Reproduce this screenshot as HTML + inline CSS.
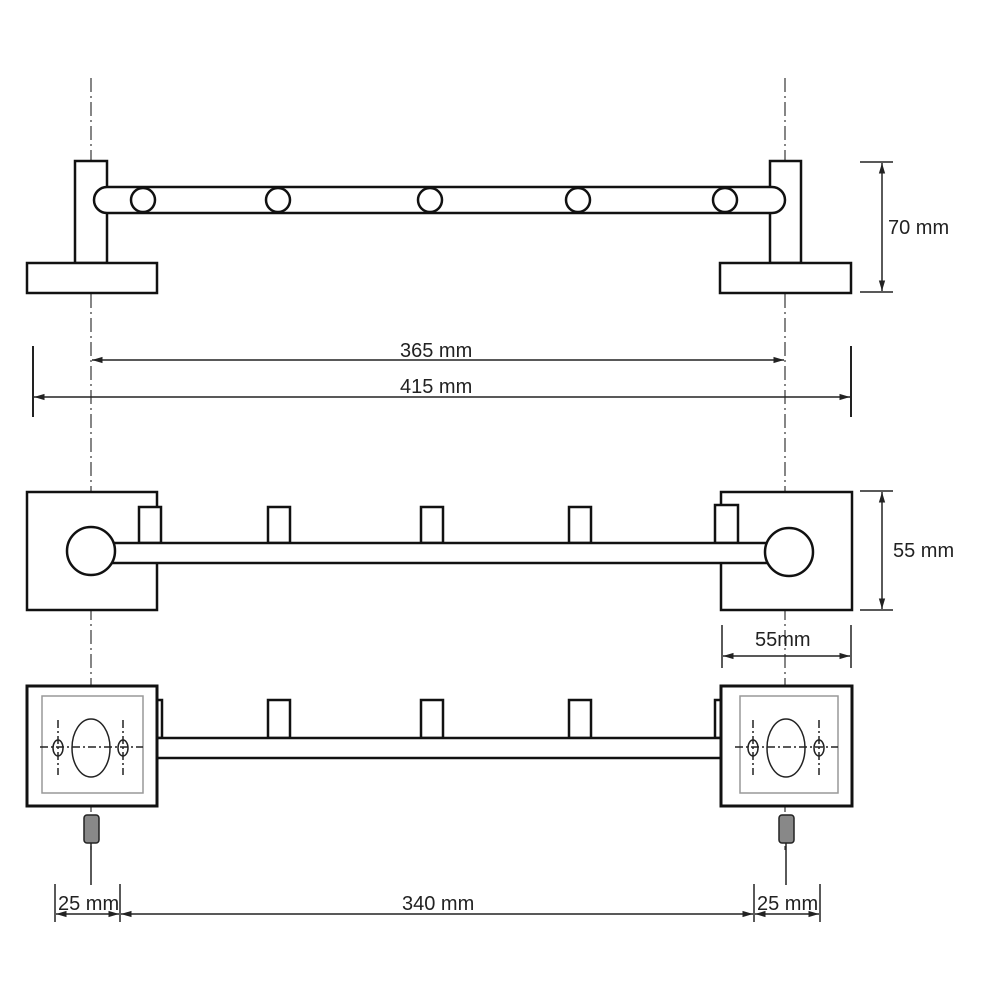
<!DOCTYPE html>
<html><head><meta charset="utf-8"><style>html,body{margin:0;padding:0;background:#fff}svg{display:block}text{font-family:"Liberation Sans",sans-serif;font-size:20px;fill:#222}</style></head><body>
<svg width="1000" height="1000" viewBox="0 0 1000 1000" xmlns="http://www.w3.org/2000/svg">
<defs>
<marker id="a" viewBox="0 0 10 10" refX="10" refY="5" markerWidth="7" markerHeight="7" orient="auto-start-reverse"><path d="M0,2 L10,5 L0,8 z" fill="#222"/></marker>
</defs>
<g stroke="#444" stroke-width="1.3" stroke-dasharray="14,4,2,4" fill="none">
<line x1="91" y1="78" x2="91" y2="850"/>
<line x1="785" y1="78" x2="785" y2="850"/>
</g>
<g stroke="#111" stroke-width="2.5" fill="#fff">
<!-- top view -->
<rect x="75" y="161" width="32" height="102"/>
<rect x="27" y="263" width="130" height="30"/>
<rect x="770" y="161" width="31" height="102"/>
<rect x="720" y="263" width="131" height="30"/>
<path d="M107,187 L772,187 A13,13 0 0 1 772,213 L107,213 A13,13 0 0 1 107,187 Z"/>
<circle cx="143" cy="200" r="12"/><circle cx="278" cy="200" r="12"/><circle cx="430" cy="200" r="12"/><circle cx="578" cy="200" r="12"/><circle cx="725" cy="200" r="12"/>
<!-- middle view -->
<rect x="27" y="492" width="130" height="118"/>
<rect x="721" y="492" width="131" height="118"/>
<rect x="139" y="507" width="22" height="36"/>
<rect x="268" y="507" width="22" height="36"/>
<rect x="421" y="507" width="22" height="36"/>
<rect x="569" y="507" width="22" height="36"/>
<rect x="715" y="505" width="23" height="38"/>
<rect x="110" y="543" width="660" height="20"/>
<circle cx="91" cy="551" r="24"/>
<circle cx="789" cy="552" r="24"/>
<!-- bottom view -->
<rect x="268" y="700" width="22" height="38"/>
<rect x="421" y="700" width="22" height="38"/>
<rect x="569" y="700" width="22" height="38"/>
<rect x="157" y="700" width="5" height="38"/>
<rect x="715" y="700" width="6" height="38"/>
<rect x="157" y="738" width="564" height="20"/>
<rect x="27" y="686" width="130" height="120" stroke-width="3"/>
<rect x="721" y="686" width="131" height="120" stroke-width="3"/>
</g>
<g stroke="#999" stroke-width="1.5" fill="none">
<rect x="42" y="696" width="101" height="97"/>
<rect x="740" y="696" width="98" height="97"/>
</g>
<g stroke="#222" stroke-width="1.5" fill="none">
<ellipse cx="91" cy="748" rx="19" ry="29"/>
<ellipse cx="58" cy="748" rx="5" ry="8"/><ellipse cx="123" cy="748" rx="5" ry="8"/>
<ellipse cx="786" cy="748" rx="19" ry="29"/>
<ellipse cx="753" cy="748" rx="5" ry="8"/><ellipse cx="819" cy="748" rx="5" ry="8"/>
<g stroke-dasharray="8,3,2,3">
<line x1="40" y1="747" x2="143" y2="747"/><line x1="735" y1="747" x2="838" y2="747"/>
<line x1="58" y1="720" x2="58" y2="775"/><line x1="123" y1="720" x2="123" y2="775"/>
<line x1="753" y1="720" x2="753" y2="775"/><line x1="819" y1="720" x2="819" y2="775"/>
</g>
</g>
<g stroke="#222" stroke-width="1.5" fill="#888">
<rect x="84" y="815" width="15" height="28" rx="3"/>
<rect x="779" y="815" width="15" height="28" rx="3"/>
</g>
<g stroke="#222" stroke-width="1.5" fill="none">
<line x1="91" y1="843" x2="91" y2="885"/>
<line x1="786" y1="843" x2="786" y2="885"/>
<!-- 70mm -->
<line x1="860" y1="162" x2="893" y2="162"/><line x1="860" y1="292" x2="893" y2="292"/>
<line x1="882" y1="163" x2="882" y2="291" marker-start="url(#a)" marker-end="url(#a)"/>
<!-- 365 / 415 -->
<line x1="92" y1="360" x2="784" y2="360" marker-start="url(#a)" marker-end="url(#a)"/>
<line x1="33" y1="346" x2="33" y2="417" stroke-width="2"/><line x1="851" y1="346" x2="851" y2="417" stroke-width="2"/>
<line x1="34" y1="397" x2="850" y2="397" marker-start="url(#a)" marker-end="url(#a)"/>
<!-- 55 vertical -->
<line x1="860" y1="491" x2="893" y2="491"/><line x1="860" y1="610" x2="893" y2="610"/>
<line x1="882" y1="492" x2="882" y2="609" marker-start="url(#a)" marker-end="url(#a)"/>
<!-- 55 horizontal -->
<line x1="722" y1="625" x2="722" y2="668"/><line x1="851" y1="625" x2="851" y2="668"/>
<line x1="723" y1="656" x2="850" y2="656" marker-start="url(#a)" marker-end="url(#a)"/>
<!-- bottom -->
<line x1="55" y1="884" x2="55" y2="922"/><line x1="120" y1="884" x2="120" y2="922"/>
<line x1="754" y1="884" x2="754" y2="922"/><line x1="820" y1="884" x2="820" y2="922"/>
<line x1="56" y1="914" x2="119" y2="914" marker-start="url(#a)" marker-end="url(#a)"/>
<line x1="121" y1="914" x2="753" y2="914" marker-start="url(#a)" marker-end="url(#a)"/>
<line x1="755" y1="914" x2="819" y2="914" marker-start="url(#a)" marker-end="url(#a)"/>
</g>
<text x="888" y="234">70 mm</text>
<text x="400" y="357">365 mm</text>
<text x="400" y="393">415 mm</text>
<text x="893" y="557">55 mm</text>
<text x="755" y="646">55mm</text>
<text x="58" y="910">25 mm</text>
<text x="402" y="910">340 mm</text>
<text x="757" y="910">25 mm</text>
</svg>
</body></html>
